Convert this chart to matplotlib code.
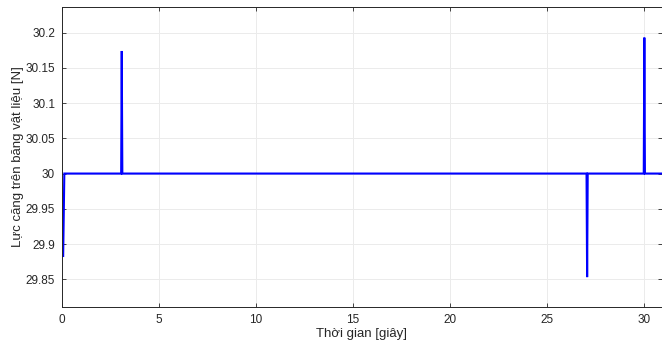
import numpy as np
from matplotlib import pyplot as plt

# breakpoints of the tension signal
tPts = [0.06, 0.12, 3.05, 3.08, 3.11, 27.04, 27.07, 27.10, 29.99, 30.02, 30.05, 31.0]
fPts = [29.883, 30.0, 30.0, 30.174, 30.0, 30.0, 29.853, 30.0, 30.0, 30.193, 30.0, 30.0]

xTicks = [0, 5, 10, 15, 20, 25, 30]
yTicks = [29.85, 29.9, 29.95, 30, 30.05, 30.1, 30.15, 30.2]
yTickLabels = ['29.85', '29.9', '29.95', '30', '30.05', '30.1', '30.15', '30.2']

plt.rcParams['font.family'] = ['Liberation Sans', 'DejaVu Sans']
axCol = '#262626'

fg = plt.figure(figsize=(6.62, 3.49), dpi=100)
ax = fg.add_axes([62/662., 42.3/349., 1 - 62/662., 299.4/349.])

ax.plot(tPts, fPts, color='#0000ff', lw=1.5, solid_joinstyle='miter')

ax.set_xlim(0, 30.93)
ax.set_ylim(29.811, 30.236)
ax.set_xticks(xTicks)
ax.set_yticks(yTicks)
ax.set_yticklabels(yTickLabels)
ax.grid(True, color='#ebebeb', lw=0.7)
ax.set_axisbelow(True)
ax.tick_params(direction='in', top=True, right=True, length=3, width=0.6,
               colors=axCol, labelsize=8.5, pad=5)
for s in ax.spines.values():
  s.set_color(axCol)
  s.set_linewidth(0.7)

ax.set_xlabel('Thời gian [giây]', fontsize=9.5, color=axCol, labelpad=2)
ax.set_ylabel('Lực căng trên băng vật liệu [N]', fontsize=9.5, color=axCol, labelpad=1)

fg.savefig('out.png', dpi=100)
